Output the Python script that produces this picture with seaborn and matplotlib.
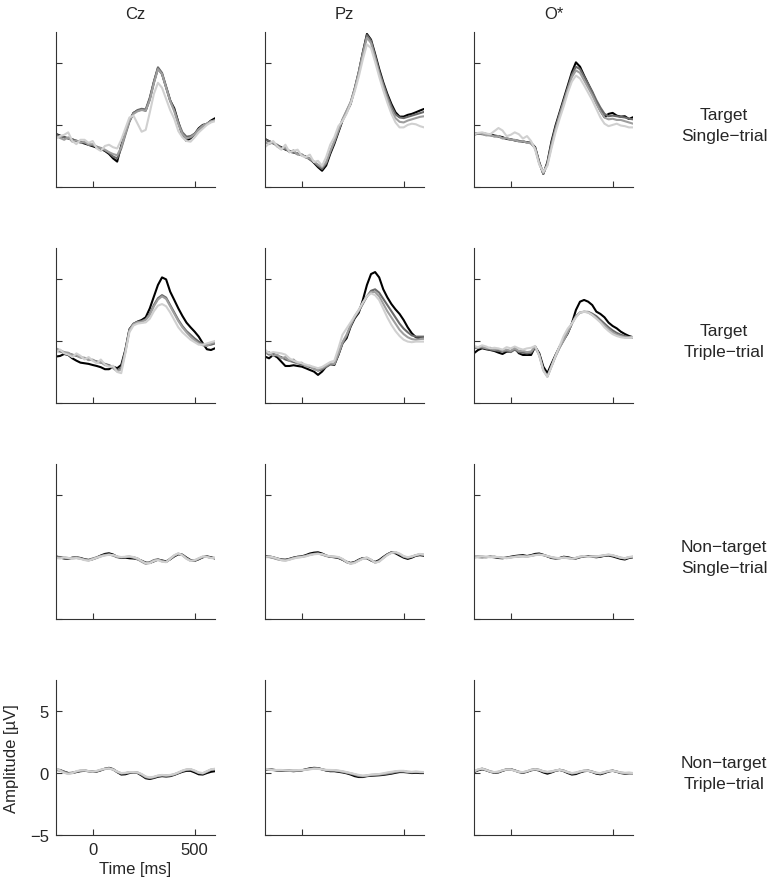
import pandas as pd
import matplotlib.pyplot as plt
import matplotlib.transforms as mtransforms
import seaborn as sns

# time axis (ms), one sample every 20 ms
time_ms = list(range(-180, 601, 20))

channels = ["Cz", "Pz", "O*"]
conditions = ["Target\nSingle\u2212trial", "Target\nTriple\u2212trial",
              "Non\u2212target\nSingle\u2212trial", "Non\u2212target\nTriple\u2212trial"]
line_names = ["a", "b", "c", "d"]
line_colors = ["#000000", "#6a6a6a", "#9e9e9e", "#d0d0d0"]

# ---- Target, single-trial ----
cz_ts_a = [-0.73,-0.86,-0.99,-1.08,-1.18,-1.29,-1.40,-1.50,-1.61,-1.72,-1.83,-1.94,-2.10,-2.34,-2.70,-2.96,-1.67,-0.59,0.35,0.97,1.16,1.24,1.16,2.10,3.44,4.57,4.11,3.04,1.96,1.34,0.22,-0.86,-1.29,-1.08,-0.73,-0.27,0.00,0.08,0.35,0.54]
cz_ts_b = [-0.80,-0.90,-1.00,-1.10,-1.15,-1.30,-1.35,-1.45,-1.55,-1.65,-1.75,-1.90,-2.05,-2.25,-2.55,-2.70,-1.90,-0.80,0.25,0.95,1.20,1.30,1.25,2.20,3.50,4.65,4.20,3.10,2.00,1.20,0.20,-0.60,-0.95,-0.90,-0.70,-0.40,-0.10,0.10,0.25,0.40]
cz_ts_c = [-0.90,-1.05,-1.20,-1.00,-1.35,-1.25,-1.45,-1.35,-1.60,-1.55,-1.80,-1.85,-2.00,-2.20,-2.35,-2.45,-1.80,-0.70,0.35,0.90,1.10,1.20,1.15,2.00,3.35,4.50,4.10,3.00,1.90,1.10,0.05,-0.75,-1.10,-1.00,-0.75,-0.35,-0.05,0.10,0.30,0.35]
cz_ts_d = [-1.10,-0.90,-0.80,-0.60,-1.30,-1.55,-1.20,-1.20,-1.45,-1.30,-1.90,-2.10,-1.70,-1.60,-1.80,-1.90,-1.20,-0.30,0.60,0.75,0.10,-0.55,-0.40,1.00,2.50,3.40,3.00,2.10,1.20,0.50,-0.50,-1.00,-1.30,-1.35,-1.00,-0.60,-0.30,0.00,0.20,0.30]

pz_ts_a = [-1.13,-1.32,-1.45,-1.67,-1.80,-1.99,-2.10,-2.20,-2.34,-2.42,-2.58,-2.74,-3.06,-3.41,-3.70,-3.28,-2.34,-1.53,-0.59,0.35,1.02,1.69,2.90,4.25,5.86,7.34,6.88,5.73,4.52,3.44,2.50,1.69,1.02,0.67,0.67,0.81,0.89,1.02,1.16,1.29]
pz_ts_b = [-1.20,-1.30,-1.50,-1.60,-1.85,-1.95,-2.15,-2.25,-2.30,-2.45,-2.55,-2.80,-3.00,-3.30,-3.55,-3.10,-2.20,-1.40,-0.50,0.40,1.10,1.80,2.95,4.30,5.85,7.25,6.80,5.60,4.35,3.30,2.35,1.50,0.85,0.60,0.55,0.65,0.75,0.85,0.95,1.05]
pz_ts_c = [-1.40,-1.55,-1.40,-1.75,-1.95,-1.80,-2.20,-2.05,-2.40,-2.35,-2.65,-2.70,-2.95,-3.20,-3.40,-3.00,-2.10,-1.30,-0.40,0.45,1.15,1.85,2.90,4.20,5.70,7.05,6.60,5.40,4.15,3.10,2.10,1.20,0.55,0.25,0.20,0.35,0.45,0.55,0.65,0.70]
pz_ts_d = [-1.80,-1.50,-1.30,-1.70,-2.00,-1.60,-2.20,-2.10,-2.00,-2.50,-2.60,-2.40,-3.00,-2.90,-3.30,-2.60,-1.60,-1.00,-0.10,0.30,0.90,1.70,2.70,3.90,5.30,6.50,6.20,5.10,3.90,2.80,1.80,0.90,0.20,-0.20,-0.20,0.00,0.10,0.05,-0.10,-0.20]

o_ts_a = [-0.73,-0.67,-0.67,-0.73,-0.75,-0.86,-0.91,-0.99,-1.13,-1.18,-1.24,-1.29,-1.34,-1.40,-1.45,-1.80,-3.01,-3.95,-3.01,-1.34,-0.05,1.02,2.10,3.17,4.25,5.05,4.70,3.98,3.31,2.63,1.83,1.16,0.62,0.89,0.97,0.75,0.67,0.70,0.48,0.62]
o_ts_b = [-0.80,-0.70,-0.75,-0.80,-0.85,-0.90,-0.95,-1.05,-1.10,-1.15,-1.25,-1.30,-1.35,-1.40,-1.50,-1.85,-3.05,-3.95,-3.10,-1.50,-0.20,0.90,1.95,3.00,4.05,4.70,4.50,3.90,3.30,2.70,2.00,1.40,0.90,0.70,0.75,0.70,0.65,0.60,0.50,0.45]
o_ts_c = [-0.75,-0.65,-0.70,-0.85,-0.80,-0.95,-0.90,-1.10,-1.05,-1.20,-1.20,-1.35,-1.30,-1.45,-1.45,-1.90,-3.10,-3.90,-3.20,-1.70,-0.40,0.75,1.80,2.85,3.85,4.40,4.20,3.60,3.00,2.40,1.70,1.10,0.60,0.45,0.50,0.40,0.40,0.30,0.20,0.10]
o_ts_d = [-0.75,-0.65,-0.60,-0.70,-0.75,-0.50,-0.25,-0.45,-0.90,-0.80,-0.60,-0.75,-1.10,-0.90,-1.30,-2.00,-3.20,-3.80,-3.30,-1.90,-0.60,0.50,1.50,2.60,3.50,3.98,3.75,3.20,2.60,2.00,1.30,0.60,0.10,-0.10,0.00,0.10,-0.05,-0.10,-0.20,-0.20]

# ---- Target, triple-trial ----
cz_tt_a = [-1.26,-1.21,-1.05,-1.13,-1.40,-1.59,-1.75,-1.80,-1.85,-1.94,-2.02,-2.12,-2.28,-2.28,-2.07,-2.20,-1.94,-0.73,0.94,1.37,1.56,1.69,1.91,2.63,3.58,4.52,5.13,4.97,3.98,3.31,2.63,2.02,1.48,1.10,0.75,0.35,-0.19,-0.67,-0.73,-0.59]
cz_tt_b = [-0.80,-0.85,-0.95,-1.00,-1.10,-1.20,-1.30,-1.40,-1.50,-1.55,-1.65,-1.75,-1.85,-1.95,-2.10,-2.35,-2.20,-0.80,0.90,1.40,1.55,1.60,1.75,2.20,2.90,3.45,3.70,3.50,2.90,2.30,1.70,1.20,0.80,0.50,0.20,-0.05,-0.25,-0.35,-0.30,-0.20]
cz_tt_c = [-0.60,-0.75,-0.90,-0.95,-1.15,-1.15,-1.35,-1.35,-1.55,-1.50,-1.75,-1.70,-1.95,-2.00,-2.20,-2.45,-2.30,-0.90,0.85,1.35,1.50,1.55,1.70,2.10,2.80,3.35,3.60,3.40,2.80,2.20,1.60,1.10,0.70,0.35,0.05,-0.20,-0.35,-0.40,-0.20,-0.10]
cz_tt_d = [-0.90,-0.70,-1.00,-1.10,-1.30,-1.00,-1.20,-1.50,-1.30,-1.60,-1.80,-1.50,-1.90,-2.10,-2.00,-2.50,-2.60,-1.00,0.70,1.25,1.40,1.45,1.50,1.80,2.40,2.85,2.98,2.80,2.30,1.70,1.10,0.70,0.40,0.10,-0.10,-0.30,-0.30,-0.20,-0.10,0.00]

pz_tt_a = [-1.26,-1.40,-1.13,-1.32,-1.67,-2.02,-2.02,-1.96,-2.02,-2.07,-2.20,-2.34,-2.47,-2.74,-2.47,-2.07,-1.85,-1.94,-1.13,-0.19,0.22,1.16,1.83,2.28,3.31,4.52,5.40,5.56,5.13,4.17,3.52,2.98,2.55,2.18,1.69,1.10,0.62,0.30,0.22,0.22]
pz_tt_b = [-0.90,-1.10,-1.00,-1.20,-1.30,-1.50,-1.60,-1.70,-1.80,-1.90,-2.00,-2.10,-2.20,-2.40,-2.30,-2.10,-1.90,-1.90,-1.10,-0.20,0.40,1.20,1.90,2.40,3.00,3.60,4.05,4.17,3.90,3.40,2.90,2.40,1.90,1.40,1.00,0.70,0.45,0.35,0.35,0.35]
pz_tt_c = [-1.00,-0.90,-1.20,-1.10,-1.40,-1.30,-1.60,-1.50,-1.80,-1.75,-2.05,-2.00,-2.30,-2.35,-2.20,-2.00,-1.80,-1.85,-1.00,-0.10,0.50,1.30,2.00,2.50,3.10,3.60,3.95,3.95,3.60,3.00,2.40,1.90,1.40,0.90,0.55,0.30,0.15,0.10,0.15,0.20]
pz_tt_d = [-0.70,-1.00,-0.90,-0.95,-1.00,-1.10,-1.40,-1.60,-1.70,-1.80,-1.90,-2.00,-2.10,-2.20,-2.10,-1.90,-1.70,-1.60,-0.60,0.50,1.00,1.50,2.00,2.50,3.10,3.60,3.84,3.70,3.30,2.60,1.90,1.30,0.80,0.40,0.10,-0.05,-0.10,-0.05,-0.05,-0.05]

o_tt_a = [-0.99,-0.73,-0.59,-0.67,-0.73,-0.81,-0.94,-1.05,-0.86,-0.86,-0.59,-0.99,-1.13,-1.13,-1.13,-0.46,-0.99,-2.07,-2.60,-1.85,-1.13,-0.46,0.08,0.62,1.42,2.50,3.17,3.31,3.17,2.90,2.37,2.18,1.91,1.48,1.21,1.02,0.75,0.56,0.40,0.30]
o_tt_b = [-0.60,-0.50,-0.55,-0.60,-0.70,-0.75,-0.80,-0.85,-0.80,-0.90,-0.70,-0.90,-0.95,-1.00,-0.95,-0.50,-1.10,-2.30,-2.85,-2.00,-1.20,-0.50,0.10,0.70,1.40,2.00,2.30,2.35,2.35,2.20,2.00,1.70,1.40,1.10,0.85,0.65,0.50,0.40,0.30,0.30]
o_tt_c = [-0.50,-0.55,-0.45,-0.60,-0.55,-0.70,-0.65,-0.80,-0.70,-0.80,-0.60,-0.80,-0.80,-0.90,-0.85,-0.45,-1.15,-2.35,-2.88,-2.05,-1.25,-0.55,0.05,0.70,1.40,2.00,2.30,2.37,2.30,2.10,1.85,1.55,1.25,0.95,0.70,0.50,0.40,0.30,0.30,0.30]
o_tt_d = [-0.40,-0.50,-0.35,-0.45,-0.60,-0.55,-0.60,-0.70,-0.50,-0.60,-0.45,-0.60,-0.70,-0.60,-0.55,-0.40,-1.20,-2.40,-2.90,-2.10,-1.20,-0.40,0.40,1.00,1.40,1.90,2.30,2.35,2.30,2.10,1.80,1.50,1.10,0.80,0.55,0.40,0.30,0.25,0.25,0.30]

# ---- Non-target, single-trial ----
cz_ns_a = [0.05,-0.05,-0.12,-0.15,-0.05,-0.02,-0.08,-0.18,-0.25,-0.18,-0.05,0.12,0.25,0.30,0.20,0.02,-0.08,-0.05,-0.10,-0.12,-0.18,-0.30,-0.45,-0.48,-0.35,-0.22,-0.28,-0.35,-0.18,0.05,0.22,0.18,-0.05,-0.25,-0.30,-0.18,-0.02,0.05,-0.02,-0.12]
cz_ns_b = [0.02,0.00,-0.05,-0.08,-0.10,-0.08,-0.12,-0.20,-0.22,-0.12,-0.02,0.10,0.18,0.20,0.12,-0.02,-0.05,0.00,0.02,-0.02,-0.12,-0.35,-0.52,-0.42,-0.25,-0.18,-0.30,-0.40,-0.18,0.08,0.25,0.18,-0.08,-0.28,-0.32,-0.15,0.00,0.02,-0.05,-0.08]
cz_ns_c = [-0.05,-0.08,-0.05,-0.12,-0.08,-0.02,-0.12,-0.22,-0.28,-0.15,-0.08,0.05,0.15,0.20,0.15,0.02,-0.02,0.00,0.02,-0.05,-0.18,-0.38,-0.55,-0.48,-0.28,-0.22,-0.35,-0.40,-0.12,0.12,0.28,0.15,-0.12,-0.30,-0.28,-0.12,0.02,0.02,-0.08,-0.10]
cz_ns_d = [-0.08,-0.12,-0.02,-0.08,-0.12,-0.08,-0.15,-0.25,-0.30,-0.18,-0.05,0.05,0.12,0.18,0.15,0.05,0.00,0.02,0.05,0.00,-0.12,-0.32,-0.50,-0.50,-0.32,-0.25,-0.38,-0.42,-0.15,0.15,0.30,0.12,-0.15,-0.32,-0.25,-0.10,0.05,0.00,-0.08,-0.05]

pz_ns_a = [0.08,0.05,-0.02,-0.12,-0.20,-0.22,-0.15,-0.05,0.02,0.05,0.15,0.28,0.35,0.38,0.28,0.12,0.02,-0.02,-0.08,-0.22,-0.38,-0.48,-0.40,-0.22,-0.08,-0.10,-0.28,-0.40,-0.25,0.00,0.22,0.38,0.30,0.12,-0.05,-0.15,-0.05,0.10,0.15,0.10]
pz_ns_b = [0.05,0.02,-0.06,-0.16,-0.22,-0.24,-0.16,-0.06,0.00,0.02,0.10,0.20,0.25,0.28,0.20,0.08,0.02,0.00,-0.05,-0.20,-0.42,-0.52,-0.42,-0.25,-0.10,-0.06,-0.24,-0.44,-0.32,-0.06,0.20,0.36,0.36,0.22,0.02,-0.06,0.02,0.14,0.20,0.16]
pz_ns_c = [0.02,0.00,-0.08,-0.18,-0.25,-0.28,-0.20,-0.10,-0.02,0.00,0.08,0.18,0.25,0.28,0.22,0.10,0.05,0.02,-0.02,-0.18,-0.40,-0.52,-0.45,-0.28,-0.12,-0.08,-0.24,-0.45,-0.35,-0.08,0.18,0.35,0.38,0.24,0.04,-0.05,0.02,0.15,0.22,0.18]
pz_ns_d = [0.00,0.05,-0.02,-0.12,-0.25,-0.30,-0.22,-0.12,-0.05,0.00,0.05,0.15,0.22,0.25,0.22,0.12,0.06,0.04,0.00,-0.15,-0.38,-0.55,-0.48,-0.30,-0.15,-0.05,-0.20,-0.46,-0.38,-0.10,0.15,0.32,0.40,0.28,0.08,-0.02,0.05,0.15,0.25,0.20]

o_ns_a = [0.02,0.00,-0.02,0.00,0.02,-0.02,-0.08,-0.10,-0.05,0.02,0.08,0.12,0.15,0.08,0.15,0.25,0.28,0.18,0.05,-0.08,-0.12,-0.08,0.02,-0.02,-0.10,-0.12,-0.02,0.05,0.05,0.02,-0.02,0.02,0.10,0.12,0.05,-0.05,-0.15,-0.20,-0.08,-0.02]
o_ns_b = [0.00,0.03,0.02,-0.02,0.02,0.02,-0.03,-0.08,-0.06,-0.02,0.03,0.06,0.08,0.05,0.10,0.18,0.20,0.15,0.06,-0.04,-0.10,-0.10,-0.02,-0.06,-0.12,-0.08,0.00,0.06,0.02,0.06,0.02,0.06,0.12,0.16,0.12,0.02,-0.08,-0.12,-0.05,0.00]
o_ns_c = [-0.03,0.02,0.04,0.00,0.00,0.02,-0.02,-0.06,-0.08,-0.03,0.02,0.05,0.06,0.04,0.10,0.16,0.20,0.16,0.08,-0.02,-0.08,-0.10,-0.04,-0.08,-0.14,-0.08,0.02,0.06,0.00,0.06,0.04,0.08,0.14,0.18,0.12,0.04,-0.06,-0.10,-0.02,0.02]
o_ns_d = [-0.05,0.00,0.05,0.03,-0.02,0.00,0.00,-0.05,-0.10,-0.05,0.00,0.05,0.05,0.02,0.08,0.15,0.18,0.15,0.08,0.00,-0.06,-0.10,-0.05,-0.10,-0.15,-0.06,0.04,0.08,0.00,0.04,0.05,0.10,0.15,0.20,0.15,0.05,-0.05,-0.10,0.00,0.05]

# ---- Non-target, triple-trial ----
cz_nt_a = [0.25,0.22,0.10,0.00,0.02,0.08,0.15,0.18,0.15,0.10,0.12,0.22,0.35,0.42,0.32,0.08,-0.12,-0.10,0.00,0.05,0.00,-0.20,-0.42,-0.48,-0.40,-0.30,-0.25,-0.28,-0.25,-0.15,-0.02,0.10,0.18,0.18,0.05,-0.10,-0.12,0.00,0.10,0.15]
cz_nt_b = [0.30,0.25,0.12,0.00,0.00,0.10,0.18,0.20,0.15,0.12,0.15,0.25,0.35,0.38,0.28,0.08,-0.05,-0.02,0.05,0.05,0.02,-0.15,-0.35,-0.42,-0.36,-0.25,-0.20,-0.22,-0.20,-0.12,0.02,0.15,0.25,0.28,0.15,0.00,-0.05,0.10,0.25,0.30]
cz_nt_c = [0.32,0.22,0.05,-0.05,0.02,0.12,0.20,0.22,0.15,0.10,0.15,0.25,0.32,0.38,0.30,0.12,-0.02,0.00,0.06,0.06,0.05,-0.10,-0.30,-0.38,-0.32,-0.22,-0.18,-0.20,-0.18,-0.10,0.02,0.18,0.28,0.30,0.18,0.02,-0.02,0.12,0.28,0.32]
cz_nt_d = [0.35,0.20,0.02,-0.08,0.00,0.15,0.22,0.22,0.15,0.12,0.18,0.28,0.35,0.36,0.28,0.12,0.00,0.02,0.08,0.08,0.05,-0.08,-0.28,-0.35,-0.30,-0.20,-0.15,-0.18,-0.15,-0.08,0.05,0.20,0.30,0.32,0.20,0.05,0.00,0.15,0.30,0.35]

pz_nt_a = [0.28,0.30,0.25,0.20,0.18,0.20,0.18,0.15,0.18,0.22,0.30,0.38,0.42,0.40,0.30,0.20,0.15,0.15,0.10,0.05,-0.02,-0.12,-0.25,-0.32,-0.32,-0.25,-0.22,-0.20,-0.18,-0.15,-0.10,-0.05,0.02,0.08,0.08,0.05,0.00,0.02,0.00,0.00]
pz_nt_b = [0.30,0.32,0.28,0.22,0.20,0.22,0.20,0.18,0.20,0.22,0.28,0.35,0.40,0.38,0.30,0.22,0.20,0.20,0.15,0.10,0.02,-0.05,-0.15,-0.25,-0.27,-0.22,-0.18,-0.15,-0.13,-0.10,-0.05,0.00,0.08,0.13,0.12,0.08,0.05,0.08,0.05,0.05]
pz_nt_c = [0.32,0.30,0.25,0.22,0.22,0.24,0.22,0.20,0.20,0.22,0.26,0.32,0.36,0.36,0.30,0.24,0.22,0.22,0.18,0.12,0.05,-0.02,-0.10,-0.20,-0.24,-0.20,-0.15,-0.12,-0.10,-0.06,0.00,0.05,0.12,0.16,0.15,0.10,0.08,0.10,0.08,0.08]
pz_nt_d = [0.35,0.28,0.22,0.25,0.25,0.22,0.20,0.22,0.24,0.25,0.26,0.30,0.34,0.34,0.30,0.26,0.25,0.24,0.20,0.15,0.08,0.00,-0.08,-0.15,-0.20,-0.18,-0.12,-0.10,-0.08,-0.02,0.05,0.10,0.15,0.18,0.18,0.12,0.10,0.12,0.10,0.08]

o_nt_a = [0.08,0.22,0.30,0.22,0.10,0.02,0.05,0.18,0.28,0.30,0.20,0.08,0.02,0.10,0.22,0.28,0.20,0.05,-0.05,0.05,0.18,0.25,0.15,0.00,-0.12,-0.08,0.05,0.15,0.18,0.08,-0.05,-0.10,0.00,0.12,0.18,0.10,0.00,-0.05,-0.02,-0.02]
o_nt_b = [0.10,0.25,0.35,0.25,0.12,0.05,0.08,0.20,0.30,0.32,0.22,0.10,0.05,0.12,0.25,0.32,0.25,0.12,0.05,0.10,0.20,0.27,0.20,0.05,-0.05,0.00,0.10,0.18,0.20,0.12,0.00,-0.05,0.05,0.15,0.20,0.12,0.02,-0.02,0.00,0.00]
o_nt_c = [0.12,0.28,0.36,0.26,0.14,0.06,0.10,0.22,0.30,0.30,0.20,0.10,0.06,0.14,0.26,0.32,0.26,0.14,0.08,0.12,0.20,0.26,0.20,0.08,-0.02,0.02,0.12,0.20,0.20,0.12,0.02,-0.02,0.06,0.16,0.20,0.12,0.04,0.00,0.02,0.00]
o_nt_d = [0.15,0.30,0.35,0.24,0.12,0.08,0.12,0.22,0.28,0.28,0.18,0.10,0.08,0.15,0.26,0.30,0.25,0.15,0.10,0.14,0.22,0.25,0.18,0.08,0.00,0.05,0.14,0.20,0.18,0.10,0.02,0.00,0.08,0.16,0.18,0.12,0.05,0.02,0.02,0.00]

panels = [
    [[cz_ts_a, cz_ts_b, cz_ts_c, cz_ts_d], [pz_ts_a, pz_ts_b, pz_ts_c, pz_ts_d], [o_ts_a, o_ts_b, o_ts_c, o_ts_d]],
    [[cz_tt_a, cz_tt_b, cz_tt_c, cz_tt_d], [pz_tt_a, pz_tt_b, pz_tt_c, pz_tt_d], [o_tt_a, o_tt_b, o_tt_c, o_tt_d]],
    [[cz_ns_a, cz_ns_b, cz_ns_c, cz_ns_d], [pz_ns_a, pz_ns_b, pz_ns_c, pz_ns_d], [o_ns_a, o_ns_b, o_ns_c, o_ns_d]],
    [[cz_nt_a, cz_nt_b, cz_nt_c, cz_nt_d], [pz_nt_a, pz_nt_b, pz_nt_c, pz_nt_d], [o_nt_a, o_nt_b, o_nt_c, o_nt_d]],
]

sns.set_style("ticks")
plt.rcParams["font.family"] = ["Liberation Sans", "DejaVu Sans"]
plt.rcParams["font.size"] = 12

fig, axes = plt.subplots(4, 3, figsize=(7.82, 8.87), dpi=100, sharex=True, sharey=True)
fig.subplots_adjust(left=0.0716, right=0.8095, top=0.9628, bottom=0.0575,
                    wspace=0.314, hspace=0.395)

for r in range(4):
    for c in range(3):
        ax = axes[r, c]
        rows = []
        for name, vals in zip(line_names, panels[r][c]):
            for t, v in zip(time_ms, vals):
                rows.append({"time": t, "amp": v, "line": name})
        df = pd.DataFrame(rows)
        sns.lineplot(data=df, x="time", y="amp", hue="line", hue_order=line_names,
                     palette=line_colors, linewidth=1.5, legend=False, ax=ax)

        ax.set_xlim(-180, 600)
        ax.set_ylim(-5, 7.5)
        ax.set_xticks([0, 500])
        ax.set_yticks([-5, 0, 5])
        ax.tick_params(direction="in", length=4, width=0.8, color="#333333", pad=5,
                       labelsize=12)
        ax.tick_params(labelbottom=(r == 3 and c == 0), labelleft=(r == 3 and c == 0))
        for s in ["left", "bottom"]:
            ax.spines[s].set_color("#333333")
            ax.spines[s].set_linewidth(0.8)
        ax.set_xlabel("")
        ax.set_ylabel("")

        if r == 0:
            ax.set_title(channels[c], fontsize=12, pad=10)

    # row label on the right, centred on the zero line
    ax = axes[r, 2]
    trans = mtransforms.blended_transform_factory(ax.transAxes, ax.transData)
    ax.text(1.572, 0, conditions[r], transform=trans, ha="center", va="center",
            multialignment="center", fontsize=12.5, linespacing=1.55)

sns.despine(fig)

axes[3, 0].set_xlabel("Time [ms]", fontsize=12, labelpad=3)
axes[3, 0].set_ylabel("Amplitude [\u00b5V]", fontsize=12, labelpad=8)

fig.savefig("out.png", dpi=100)
plt.close(fig)
